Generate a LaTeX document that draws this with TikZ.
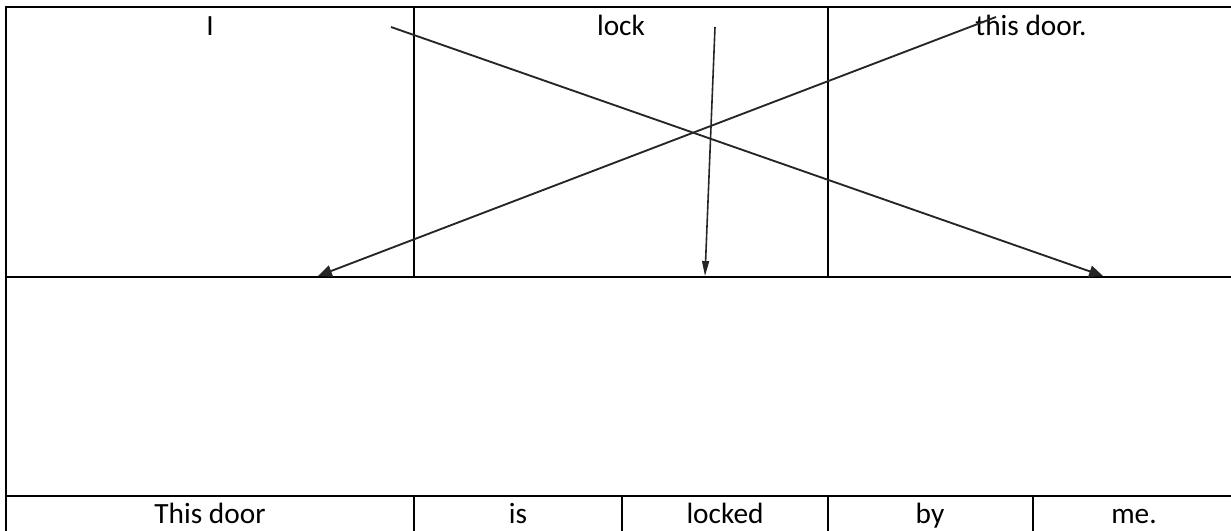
\documentclass[tikz,border=0pt]{standalone}
\usepackage{fontspec}
\setmainfont{Carlito}
\usepackage{tikz}
\usetikzlibrary{arrows.meta}
\tikzset{
  cellline/.style = {draw=black, line width=0.85pt},
  word/.style     = {font=\fontsize{11}{13}\selectfont, anchor=base, inner sep=0pt},
  link/.style     = {-{Triangle[length=5.2pt,width=4.4pt]}, draw=black!85, line width=0.7pt},
  linkthin/.style = {-{Triangle[length=5.6pt,width=2.6pt]}, draw=black!85, line width=0.6pt},
}

\begin{document}
\begin{tikzpicture}[x=0.375pt,y=-0.375pt]
  \clip (0,0) rectangle (1231,531);

  % table
  \draw[cellline] (6,7) rectangle (1240,540);
  \draw[cellline] (6,277) -- (1240,277);
  \draw[cellline] (6,496) -- (1240,496);
  \draw[cellline] (414,7) -- (414,277);
  \draw[cellline] (828,7) -- (828,277);
  \foreach \x in {414,622,828,1033}
    \draw[cellline] (\x,496) -- (\x,540);

  % active sentence
  \node[word] (wI)    at (210,35.5)  {I};
  \node[word] (wLock) at (621,35.5)  {lock};
  \node[word] (wDoor) at (1031,35.5) {this door.};

  % passive sentence
  \node[word] (pDoor)   at (210,523) {This door};
  \node[word] (pIs)     at (518,523) {is};
  \node[word] (pLocked) at (725,523) {locked};
  \node[word] (pBy)     at (930,523) {by};
  \node[word] (pMe)     at (1134,523) {me.};

  % moves
  \coordinate (iFrom)    at (391,27);
  \coordinate (iTo)      at (1103,276);
  \coordinate (lockFrom) at (715,27);
  \coordinate (lockTo)   at (705,276);
  \coordinate (doorFrom) at (996,17);
  \coordinate (doorTo)   at (318,276);
  \draw[link] (iFrom) -- (iTo);
  \draw[linkthin] (lockFrom) -- (lockTo);
  \draw[link] (doorFrom) -- (doorTo);
\end{tikzpicture}
\end{document}
